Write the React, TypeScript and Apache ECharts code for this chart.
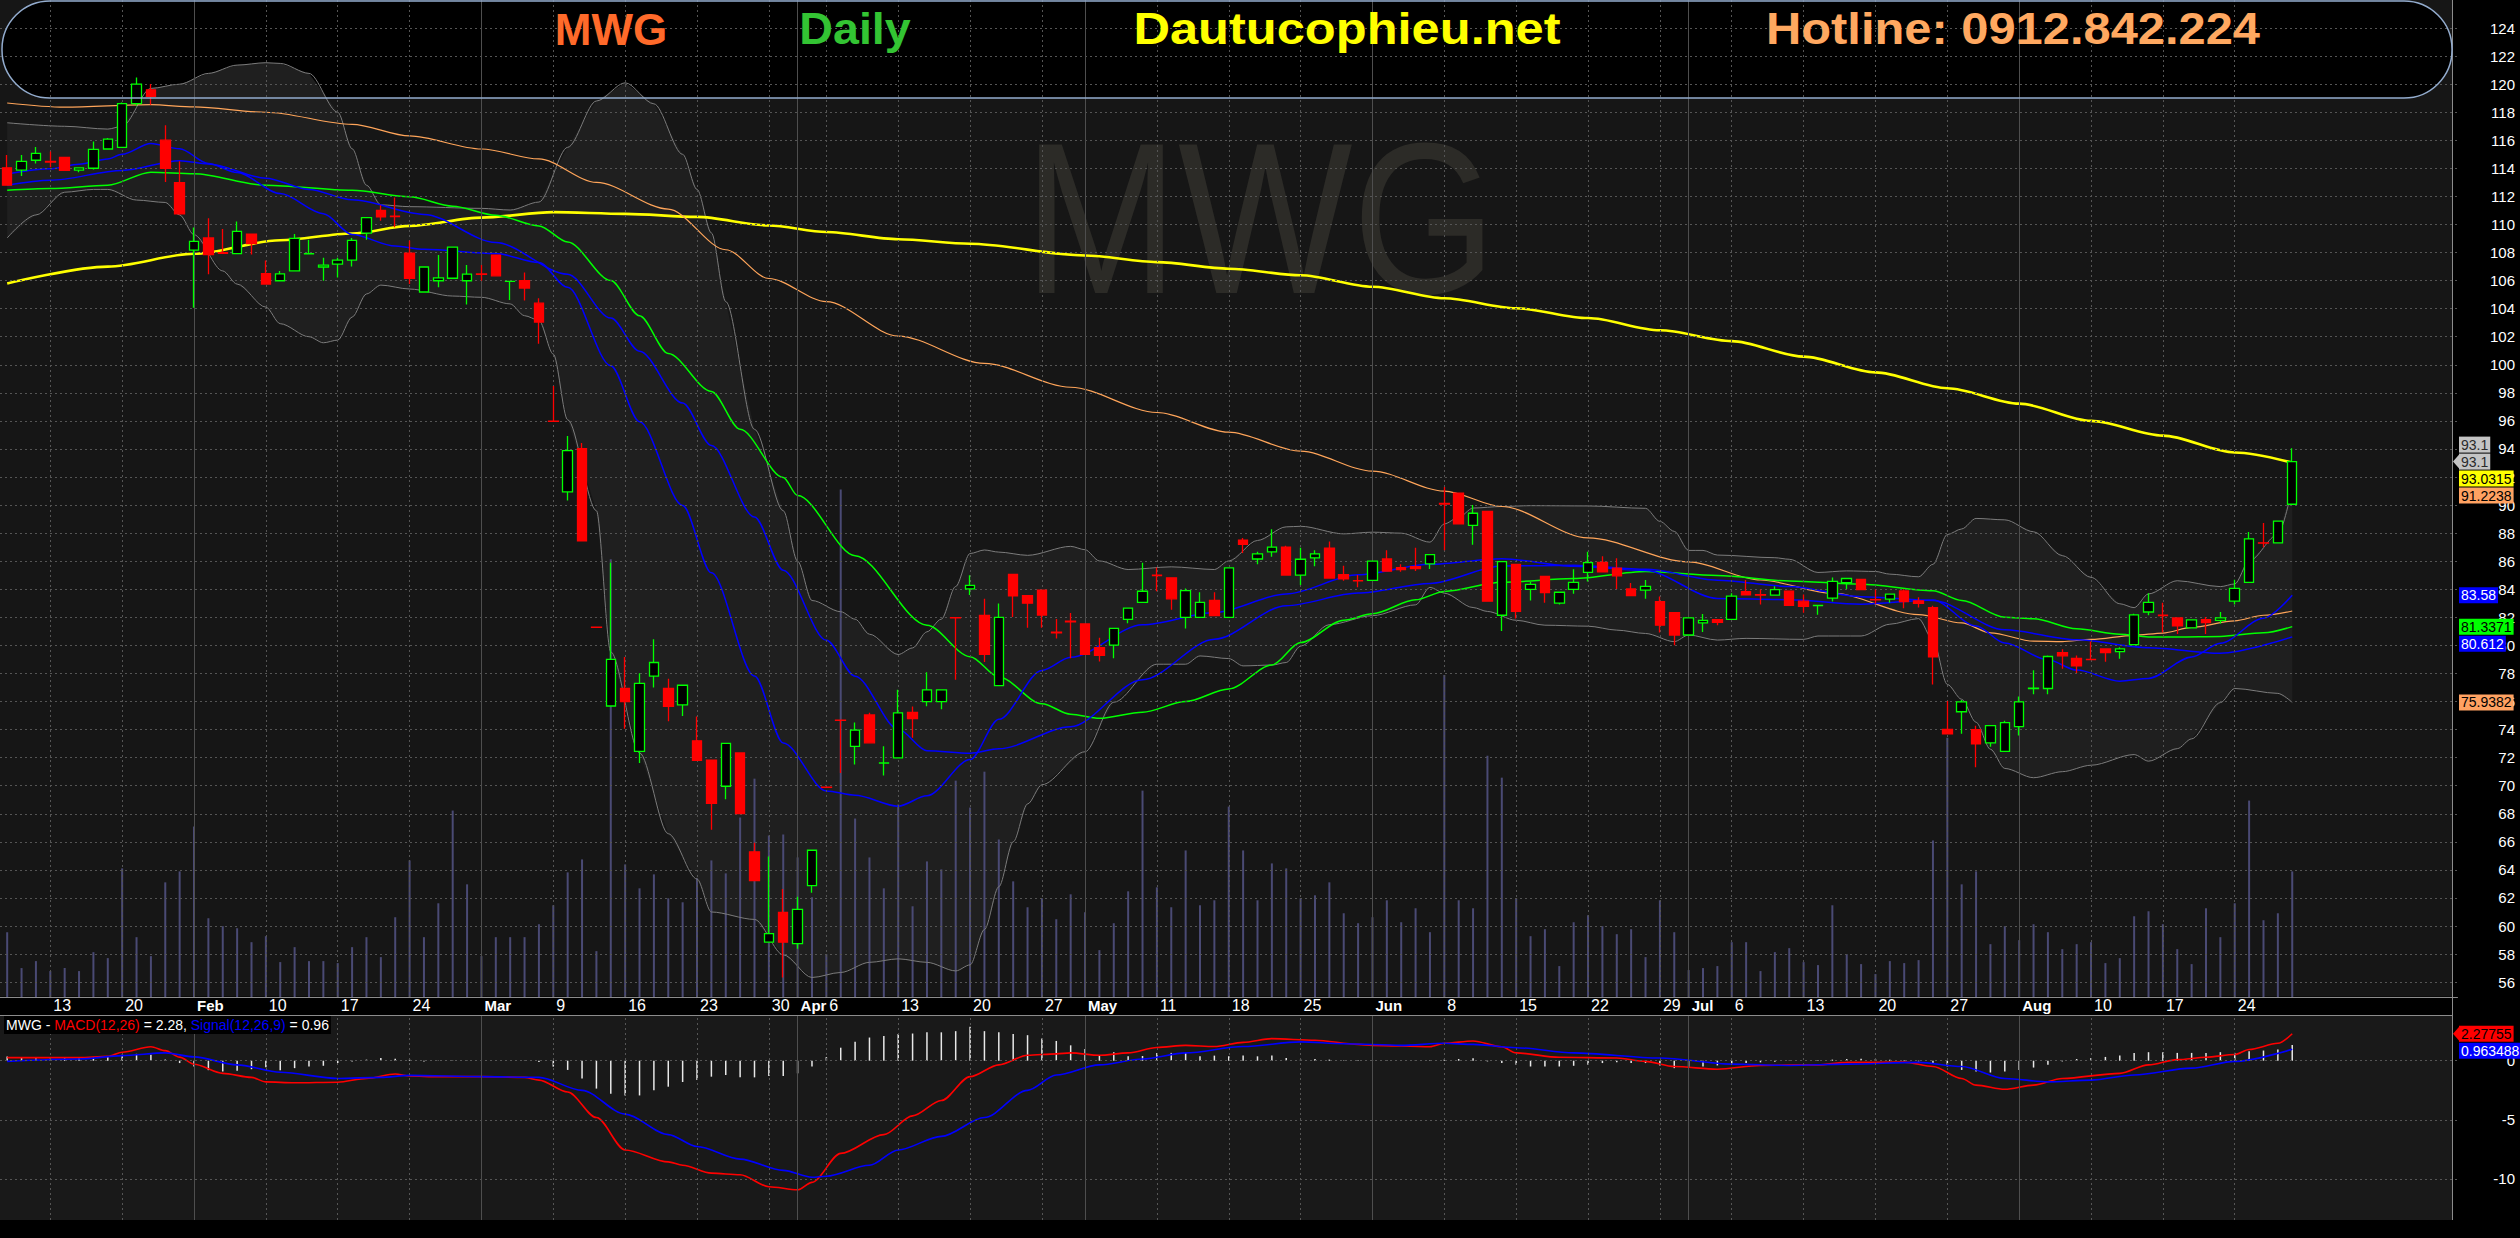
import React, { useEffect, useRef } from "react";
import * as echarts from "echarts";

// ---------- categories ----------
const tradingDays: [string, number[]][] = [
  ["2020-01", [8, 9, 10, 13, 14, 15, 16, 17, 20, 21, 22, 30, 31]],
  ["2020-02", [3, 4, 5, 6, 7, 10, 11, 12, 13, 14, 17, 18, 19, 20, 21, 24, 25, 26, 27, 28]],
  ["2020-03", [2, 3, 4, 5, 6, 9, 10, 11, 12, 13, 16, 17, 18, 19, 20, 23, 24, 25, 26, 27, 30, 31]],
  ["2020-04", [1, 3, 6, 7, 8, 9, 10, 13, 14, 15, 16, 17, 20, 21, 22, 23, 24, 27, 28, 29]],
  ["2020-05", [4, 5, 6, 7, 8, 11, 12, 13, 14, 15, 18, 19, 20, 21, 22, 25, 26, 27, 28, 29]],
  ["2020-06", [1, 2, 3, 4, 5, 8, 9, 10, 11, 12, 15, 16, 17, 18, 19, 22, 23, 24, 25, 26, 29, 30]],
  ["2020-07", [1, 2, 3, 6, 7, 8, 9, 10, 13, 14, 15, 16, 17, 20, 21, 22, 23, 24, 27, 28, 29, 30, 31]],
  ["2020-08", [3, 4, 5, 6, 7, 10, 11, 12, 13, 14, 17, 18, 19, 20, 21, 24, 25, 26, 27, 28]],
];
const dates: string[] = tradingDays.flatMap(([m, ds]) => ds.map((d) => `${m}-${d < 10 ? "0" + d : d}`));
const emptySlots = ["+1", "+2", "+3", "+4", "+5", "+6", "+7", "+8", "+9", "+10", "+11"];
const categories = [...dates, ...emptySlots];

const xTickLabels: [string, string][] = [
  ["2020-01-13", "13"], ["2020-01-20", "20"], ["2020-02-03", "Feb"], ["2020-02-10", "10"], ["2020-02-17", "17"], ["2020-02-24", "24"],
  ["2020-03-02", "Mar"], ["2020-03-09", "9"], ["2020-03-16", "16"], ["2020-03-23", "23"], ["2020-03-30", "30"],
  ["2020-04-01", "Apr"], ["2020-04-06", "6"], ["2020-04-13", "13"], ["2020-04-20", "20"], ["2020-04-27", "27"],
  ["2020-05-04", "May"], ["2020-05-11", "11"], ["2020-05-18", "18"], ["2020-05-25", "25"],
  ["2020-06-01", "Jun"], ["2020-06-08", "8"], ["2020-06-15", "15"], ["2020-06-22", "22"], ["2020-06-29", "29"],
  ["2020-07-01", "Jul"], ["2020-07-06", "6"], ["2020-07-13", "13"], ["2020-07-20", "20"], ["2020-07-27", "27"],
  ["2020-08-03", "Aug"], ["2020-08-10", "10"], ["2020-08-17", "17"], ["2020-08-24", "24"],
];
const priceTicks = [56, 58, 60, 62, 64, 66, 68, 70, 72, 74, 76, 78, 80, 82, 84, 86, 88, 90, 92, 94, 96, 98, 100, 102, 104, 106, 108, 110, 112, 114, 116, 118, 120, 122, 124];
const macdTicks = [0, -5, -10];

// ---------- price: [open, close, low, high] ----------
const ohlc: number[][] = [
  [114.04, 112.8, 112.8, 114.95], [113.87, 114.5, 113.45, 114.95], [114.58, 115.07, 114.34, 115.52], [114.5, 114.45, 114.08, 115.2], [114.79, 113.85, 113.85, 114.8],
  [113.87, 114.04, 113.73, 114.08], [114.01, 115.35, 113.92, 115.92], [115.38, 116.08, 115.38, 116.17], [115.49, 118.62, 115.49, 118.7], [118.62, 120.0, 118.47, 120.47],
  [119.6, 119.13, 118.54, 120.02], [116.01, 114.01, 113.03, 117.07], [112.98, 110.75, 110.7, 114.5], [108.17, 108.8, 104.06, 109.79], [109.04, 107.86, 106.46, 110.45],
  [107.99, 107.95, 107.95, 109.67], [107.93, 109.51, 107.93, 110.21], [109.32, 108.64, 107.86, 109.32], [106.5, 105.75, 105.75, 107.44], [105.99, 106.48, 105.99, 106.69],
  [106.69, 109.01, 106.69, 109.32], [107.9, 107.92, 107.9, 108.92], [106.97, 107.11, 105.99, 107.63], [107.18, 107.46, 106.22, 107.63], [107.46, 108.87, 107.0, 109.04],
  [109.39, 110.49, 108.92, 110.5], [111.01, 110.54, 110.26, 111.38], [110.6, 110.56, 109.81, 111.92], [107.96, 106.17, 105.75, 108.85], [105.19, 106.97, 105.19, 106.97],
  [105.99, 106.2, 105.52, 107.82], [106.17, 108.38, 106.17, 108.38], [105.99, 106.46, 104.29, 107.11], [106.48, 106.44, 105.99, 107.11], [107.82, 106.34, 106.3, 107.82],
  [105.94, 105.95, 104.62, 105.95], [105.99, 105.47, 104.58, 106.57], [104.39, 103.05, 101.5, 104.75], [95.99, 95.97, 95.97, 98.49], [90.94, 93.88, 90.32, 94.93],
  [94.03, 87.45, 87.45, 94.42], [81.3, 81.28, 81.25, 81.32], [75.68, 79.0, 75.68, 85.9], [76.94, 76.0, 74.06, 79.17], [72.45, 77.3, 71.62, 78.02],
  [77.81, 78.78, 77.0, 80.43], [76.94, 75.65, 74.6, 77.63], [75.76, 77.16, 74.96, 77.2], [73.2, 71.8, 71.8, 74.93], [71.83, 68.74, 66.87, 71.83],
  [69.96, 73.02, 69.03, 73.02], [72.34, 68.02, 68.0, 72.34], [65.29, 63.24, 63.24, 65.94], [58.85, 59.46, 58.85, 64.96], [60.97, 58.85, 56.33, 62.63],
  [58.74, 61.19, 58.38, 62.09], [62.88, 65.4, 62.37, 65.4], [69.9, 69.88, 69.88, 69.9], [74.68, 74.66, 70.9, 74.68], [72.81, 73.96, 71.51, 74.5],
  [75.04, 73.06, 73.06, 75.2], [71.62, 71.63, 70.72, 72.81], [71.98, 75.19, 71.98, 76.84], [75.22, 74.78, 73.42, 75.65], [76.0, 76.83, 75.67, 78.09],
  [76.0, 76.83, 75.45, 76.83], [81.98, 81.96, 77.55, 81.98], [84.03, 84.28, 83.6, 85.0], [82.14, 79.36, 78.82, 83.32], [77.13, 82.0, 77.09, 82.99],
  [85.06, 83.53, 82.02, 85.06], [83.55, 83.01, 81.25, 83.55], [83.93, 82.16, 81.25, 83.93], [80.94, 80.9, 80.49, 81.88], [81.72, 81.68, 79.08, 82.31],
  [81.53, 79.36, 79.36, 81.53], [79.84, 79.29, 78.85, 80.54], [80.02, 81.22, 79.08, 81.22], [81.86, 82.66, 81.58, 82.66], [83.06, 83.86, 83.06, 85.9],
  [85.01, 84.98, 83.86, 85.55], [84.82, 83.32, 82.54, 84.82], [82.0, 83.91, 81.2, 84.05], [82.0, 83.06, 82.0, 83.79], [83.2, 82.12, 82.12, 83.79],
  [82.0, 85.53, 82.0, 85.53], [87.51, 87.2, 86.59, 87.65], [86.16, 86.52, 85.79, 86.68], [86.66, 87.01, 86.31, 88.28], [87.01, 85.01, 85.01, 87.1],
  [85.01, 86.14, 84.31, 86.96], [86.24, 86.52, 85.65, 86.78], [86.94, 84.8, 84.8, 87.41], [85.04, 84.75, 84.61, 85.67], [84.62, 84.6, 84.14, 85.01],
  [84.64, 86.01, 84.64, 86.01], [86.16, 85.29, 85.29, 86.78], [85.55, 85.41, 85.25, 85.79], [85.62, 85.48, 85.3, 86.96], [85.81, 86.47, 85.44, 86.47],
  [90.12, 90.08, 86.78, 91.29], [90.85, 88.66, 88.66, 90.85], [88.56, 89.42, 87.18, 90.0], [89.55, 83.15, 83.15, 89.55], [82.15, 85.97, 81.02, 85.97],
  [85.78, 82.43, 81.91, 85.78], [84.0, 84.35, 83.2, 84.52], [84.92, 83.77, 83.04, 84.92], [83.01, 83.79, 82.92, 83.79], [84.0, 84.49, 83.69, 85.43],
  [85.2, 85.9, 84.55, 86.68], [85.92, 85.24, 85.24, 86.35], [85.5, 84.96, 84.02, 86.21], [84.02, 83.55, 83.55, 84.45], [83.94, 84.21, 83.33, 84.66],
  [83.11, 81.44, 80.92, 83.48], [82.33, 80.74, 80.01, 82.33], [80.74, 81.96, 80.74, 81.96], [81.6, 81.79, 80.96, 82.24], [81.84, 81.65, 81.44, 81.84],
  [81.86, 83.51, 81.86, 83.72], [83.84, 83.6, 83.6, 84.66], [83.61, 83.58, 82.92, 83.98], [83.58, 83.98, 83.58, 84.21], [83.86, 82.85, 82.85, 83.86],
  [83.15, 82.78, 82.32, 83.62], [82.83, 82.85, 82.19, 82.86], [83.37, 84.56, 83.13, 84.84], [84.47, 84.77, 84.02, 84.77], [84.7, 83.98, 83.98, 84.7],
  [83.27, 83.25, 82.97, 83.98], [83.3, 83.65, 83.04, 83.65], [83.88, 83.13, 82.65, 84.0], [83.18, 82.99, 82.71, 83.44], [82.69, 79.19, 77.22, 82.83],
  [74.02, 73.69, 73.69, 76.04], [75.27, 75.97, 73.7, 76.11], [74.0, 72.99, 71.32, 74.28], [73.06, 74.28, 72.77, 74.28], [72.45, 74.49, 72.45, 74.63],
  [74.21, 75.97, 73.58, 76.35], [76.93, 76.95, 76.51, 78.23], [76.93, 79.21, 76.51, 79.28], [79.49, 79.26, 78.34, 79.72], [79.07, 78.55, 78.04, 79.28],
  [79.0, 78.98, 78.98, 80.27], [79.75, 79.49, 78.84, 79.75], [79.56, 79.75, 79.05, 79.87], [80.06, 82.17, 80.06, 82.26], [82.38, 83.06, 82.15, 83.72],
  [82.15, 82.13, 80.92, 83.04], [81.96, 81.39, 80.81, 81.96], [81.25, 81.82, 81.25, 81.86], [81.84, 81.63, 80.81, 82.03], [81.79, 81.96, 81.56, 82.38],
  [83.15, 84.07, 82.92, 84.68], [84.49, 87.59, 84.49, 88.08], [87.31, 87.29, 87.0, 88.72], [87.31, 88.86, 87.31, 88.86], [90.06, 93.1, 90.06, 94.05],
];

// volume (millions of shares)
const volume = [
  0.65, 0.29, 0.36, 0.26, 0.29, 0.26, 0.45, 0.39, 1.29, 0.6,
  0.41, 1.15, 1.26, 1.71, 0.79, 0.71, 0.69, 0.55, 0.61, 0.35,
  0.5, 0.36, 0.36, 0.34, 0.5, 0.6, 0.4, 0.8, 1.37, 0.6,
  0.94, 1.87, 1.13, 0.41, 0.6, 0.6, 0.6, 0.73, 0.92, 1.25,
  1.38, 0.46, 4.39, 1.33, 1.09, 1.23, 0.99, 0.95, 1.19, 1.37,
  1.24, 1.8, 2.19, 1.62, 1.63, 1.4, 1.0, 0.43, 5.09, 1.79,
  1.4, 1.09, 1.93, 0.91, 1.36, 1.28, 2.17, 1.9, 2.26, 1.58,
  1.16, 0.9, 0.99, 0.78, 1.03, 0.85, 0.47, 0.74, 1.06, 2.07,
  1.1, 0.9, 1.47, 0.92, 0.97, 1.91, 1.47, 0.97, 1.34, 1.29,
  0.99, 1.02, 1.15, 0.84, 0.74, 0.8, 0.97, 0.75, 0.89, 0.65,
  3.23, 0.97, 0.89, 2.42, 2.2, 0.99, 0.61, 0.68, 0.31, 0.75,
  0.82, 0.71, 0.63, 0.68, 0.4, 0.97, 0.65, 0.27, 0.29, 0.31,
  0.55, 0.55, 0.26, 0.45, 0.49, 0.35, 0.32, 0.92, 0.43, 0.33,
  0.23, 0.36, 0.34, 0.37, 1.57, 2.6, 1.13, 1.26, 0.53, 0.71,
  0.57, 0.73, 0.65, 0.48, 0.53, 0.55, 0.34, 0.39, 0.81, 0.86,
  0.73, 0.48, 0.33, 0.89, 0.6, 0.94, 1.97, 0.77, 0.84, 1.26,
];

// moving averages / bands: [barIndex, value]
const ma200Line = [[0, 105.8], [7, 107.0], [13, 107.91], [19, 108.88], [24, 109.36], [28, 109.9], [33, 110.49], [38, 110.88], [43, 110.76], [48, 110.54], [53, 109.93], [57, 109.46], [62, 108.95], [67, 108.63], [75, 107.79], [80, 107.32], [85, 106.85], [90, 106.38], [95, 105.56], [100, 104.74], [105, 104.03], [110, 103.33], [115, 102.46], [120, 101.69], [125, 100.58], [130, 99.46], [135, 98.33], [140, 97.23], [145, 96.0], [150, 94.95], [155, 93.75], [159, 93.03]];
const ma100Line = [[0, 118.66], [4, 118.36], [10, 118.54], [13, 118.38], [18, 118.0], [24, 117.14], [28, 116.31], [33, 115.38], [37, 114.67], [41, 113.0], [46, 111.1], [50, 108.2], [53, 106.15], [57, 104.5], [62, 102.05], [68, 100.1], [74, 98.4], [80, 96.6], [85, 95.2], [90, 93.84], [95, 92.42], [100, 91.0], [104, 89.9], [110, 87.66], [117, 85.95], [122, 84.66], [127, 83.72], [133, 82.2], [136, 81.6], [138, 80.9], [141, 80.3], [143, 80.27], [145, 80.43], [148, 80.72], [150, 80.88], [152, 81.28], [155, 81.75], [157, 82.15], [159, 82.45]];
const ma35Line = [[0, 112.44], [3, 112.56], [7, 112.8], [10, 113.73], [13, 113.62], [18, 112.8], [24, 112.44], [28, 111.97], [31, 111.3], [34, 110.66], [37, 109.9], [39, 108.75], [42, 106.0], [44, 103.5], [46, 100.8], [49, 98.1], [51, 95.4], [54, 91.97], [55, 90.68], [59, 86.39], [64, 81.44], [67, 79.2], [69, 77.75], [72, 75.84], [74, 75.09], [76, 74.8], [79, 75.24], [82, 76.0], [85, 76.9], [88, 78.6], [90, 80.2], [93, 81.8], [95, 82.26], [98, 83.25], [100, 83.85], [104, 84.5], [109, 84.76], [114, 85.26], [119, 84.98], [124, 84.59], [129, 84.36], [134, 83.89], [136, 83.2], [139, 82.01], [141, 81.9], [144, 81.18], [147, 80.8], [149, 80.6], [151, 80.6], [154, 80.64], [157, 80.9], [159, 81.34]];
const ma25Line = [[0, 112.8], [3, 113.15], [8, 113.85], [12, 114.55], [14, 114.32], [18, 113.3], [21, 112.5], [24, 111.76], [29, 110.72], [34, 108.71], [39, 106.46], [42, 103.33], [44, 100.97], [47, 97.27], [49, 94.24], [52, 89.15], [54, 85.36], [57, 80.37], [59, 77.81], [62, 74.02], [64, 72.49], [67, 72.31], [69, 72.63], [74, 74.2], [79, 77.55], [84, 80.44], [89, 82.83], [94, 83.73], [99, 84.42], [104, 85.66], [109, 85.71], [114, 85.42], [119, 84.65], [124, 84.2], [129, 83.47], [134, 83.2], [139, 81.11], [144, 80.4], [149, 79.84], [154, 79.44], [159, 80.61]];
const ma15Line = [[0, 113.6], [3, 113.97], [5, 114.3], [7, 114.67], [8, 115.0], [10, 115.77], [12, 115.4], [14, 114.35], [16, 113.7], [19, 112.2], [22, 110.77], [24, 109.28], [27, 108.46], [29, 108.23], [34, 107.93], [37, 107.29], [39, 105.52], [42, 99.93], [44, 95.94], [47, 89.98], [49, 85.17], [52, 77.82], [54, 73.05], [57, 69.63], [59, 69.32], [62, 68.54], [64, 69.28], [67, 71.86], [69, 74.73], [72, 78.22], [74, 79.15], [79, 81.47], [84, 82.34], [89, 83.67], [94, 85.03], [99, 85.78], [104, 86.18], [109, 85.65], [114, 85.33], [119, 83.35], [124, 83.26], [129, 82.94], [134, 83.24], [137, 81.38], [139, 80.17], [142, 78.97], [144, 78.24], [147, 77.45], [149, 77.65], [152, 79.17], [154, 80.15], [157, 81.94], [159, 83.58]];
const bbUpperLine = [[0, 117.25], [4, 117.0], [7, 116.8], [8, 117.0], [10, 119.7], [12, 120.0], [14, 120.77], [16, 121.36], [18, 121.53], [19, 121.48], [21, 120.77], [23, 118.0], [24, 115.4], [25, 112.8], [26, 111.4], [28, 111.27], [33, 111.15], [35, 111.03], [37, 111.6], [39, 115.5], [41, 118.8], [43, 120.1], [45, 118.6], [47, 115.0], [48, 112.5], [49, 109.4], [50, 104.5], [52, 95.4], [54, 89.6], [55, 86.0], [56, 83.2], [58, 82.4], [59, 81.87], [60, 80.8], [62, 79.35], [63, 79.82], [64, 80.97], [65, 81.87], [66, 84.2], [67, 86.55], [68, 86.8], [69, 86.65], [71, 86.42], [74, 87.06], [75, 86.82], [76, 86.02], [78, 85.41], [81, 85.6], [84, 85.41], [85, 86.02], [87, 87.48], [89, 88.45], [90, 88.49], [93, 87.95], [95, 88.07], [97, 88.0], [99, 87.36], [100, 88.66], [101, 89.13], [102, 89.79], [104, 89.9], [106, 89.96], [110, 89.94], [114, 89.77], [115, 88.84], [116, 88.13], [117, 86.77], [118, 86.77], [119, 86.44], [123, 86.25], [124, 86.14], [126, 85.2], [128, 85.31], [130, 85.27], [131, 85.08], [133, 84.89], [134, 85.78], [135, 87.9], [136, 88.3], [137, 89.05], [139, 88.95], [141, 88.1], [143, 86.4], [145, 84.85], [147, 82.97], [148, 82.69], [149, 83.67], [151, 84.61], [154, 84.19], [155, 84.38], [156, 86.02], [158, 87.9], [159, 91.22]];
const bbLowerLine = [[0, 109.04], [2, 110.68], [4, 112.3], [6, 112.5], [7, 112.5], [9, 111.74], [11, 111.57], [12, 110.68], [13, 109.27], [15, 106.69], [16, 105.75], [18, 104.11], [19, 102.93], [21, 102.0], [22, 101.57], [23, 101.76], [24, 103.4], [25, 105.05], [26, 105.68], [28, 105.4], [31, 104.9], [33, 104.81], [35, 104.34], [36, 103.5], [37, 103.17], [38, 100.76], [39, 96.08], [41, 89.6], [42, 79.53], [44, 72.34], [46, 66.58], [48, 63.35], [49, 61.0], [52, 60.47], [54, 57.95], [56, 56.33], [58, 56.69], [60, 57.41], [62, 57.66], [64, 57.41], [66, 56.8], [67, 57.23], [68, 59.75], [69, 62.8], [70, 66.0], [71, 68.7], [72, 70.07], [75, 72.42], [77, 75.95], [80, 78.66], [82, 78.66], [83, 79.25], [85, 79.06], [86, 78.54], [88, 78.6], [89, 78.78], [90, 79.95], [92, 81.48], [95, 82.12], [98, 82.89], [99, 84.14], [100, 83.72], [102, 82.7], [103, 82.42], [105, 81.79], [107, 81.44], [110, 81.37], [112, 81.09], [114, 80.85], [116, 80.27], [117, 80.74], [119, 80.38], [121, 80.5], [125, 80.43], [126, 80.67], [129, 80.67], [131, 81.51], [133, 81.91], [134, 80.38], [135, 77.22], [136, 76.16], [137, 74.52], [138, 72.6], [139, 71.23], [141, 70.57], [143, 71.0], [145, 71.46], [148, 72.22], [149, 71.75], [151, 72.64], [152, 73.34], [154, 75.92], [155, 76.93], [158, 76.58], [159, 75.94]];

// MACD panel
const macdLine = [[0, 0.26], [5, 0.26], [7, 0.37], [8, 0.72], [10, 1.18], [11, 0.85], [12, 0.3], [13, -0.3], [15, -1.07], [17, -1.41], [18, -1.79], [20, -1.87], [23, -1.82], [25, -1.5], [27, -1.12], [28, -1.3], [30, -1.35], [33, -1.35], [36, -1.41], [37, -1.64], [39, -2.65], [41, -4.81], [43, -7.55], [46, -8.56], [47, -8.85], [49, -9.51], [51, -9.65], [53, -10.66], [55, -10.92], [56, -10.29], [58, -7.84], [61, -6.25], [63, -4.67], [65, -3.37], [67, -1.35], [69, -0.35], [71, 0.46], [73, 0.58], [74, 0.66], [76, 0.46], [78, 0.66], [80, 1.12], [82, 1.3], [84, 1.2], [86, 1.55], [88, 1.87], [91, 1.73], [94, 1.38], [95, 1.3], [99, 1.18], [100, 1.47], [102, 1.67], [104, 1.18], [105, 0.66], [108, 0.29], [112, 0.23], [114, -0.06], [116, -0.49], [119, -0.72], [122, -0.4], [126, -0.35], [128, -0.14], [132, -0.12], [134, -0.49], [136, -1.5], [137, -2.07], [139, -2.42], [141, -2.07], [143, -1.5], [147, -1.07], [149, -0.35], [151, 0.09], [153, 0.29], [155, 0.52], [156, 0.95], [158, 1.47], [159, 2.28]];
const signalLine = [[0, -0.06], [5, 0.14], [8, 0.43], [11, 0.66], [13, 0.32], [16, -0.35], [19, -0.98], [23, -1.5], [26, -1.41], [28, -1.24], [33, -1.35], [37, -1.41], [40, -2.51], [43, -4.52], [46, -6.25], [48, -7.26], [51, -8.33], [54, -9.28], [56, -9.86], [57, -9.77], [60, -8.85], [62, -7.55], [65, -6.4], [68, -4.81], [71, -2.51], [73, -1.21], [76, -0.35], [79, 0.14], [82, 0.66], [86, 1.2], [90, 1.59], [93, 1.44], [97, 1.3], [100, 1.47], [102, 1.38], [105, 1.1], [109, 0.66], [115, 0.23], [120, -0.29], [124, -0.4], [128, -0.29], [133, -0.14], [136, -0.49], [139, -1.5], [142, -1.79], [145, -1.64], [148, -1.21], [152, -0.63], [155, -0.06], [159, 0.96]];
const macdHist = [
  0.35, 0.25, 0.2, 0.2, 0.2, 0.25, 0.3, 0.35, 0.5, 0.58,
  0.5, 0.1, -0.2, -0.5, -0.8, -0.92, -0.85, -0.72, -0.55, -0.8,
  -0.63, -0.5, -0.43, -0.2, -0.06, 0.09, 0.23, 0.17, 0.09, -0.06,
  -0.02, 0.02, 0.02, 0.01, 0.0, -0.01, -0.02, -0.1, -0.5, -0.78,
  -1.5, -2.36, -2.8, -2.94, -2.94, -2.5, -2.2, -1.8, -1.64, -1.35,
  -1.2, -1.41, -1.41, -1.3, -1.3, -1.07, -0.5, 0.3, 1.1, 1.6,
  1.96, 2.1, 2.25, 2.3, 2.4, 2.4, 2.5, 2.88, 2.5, 2.4,
  2.25, 2.16, 1.87, 1.67, 1.3, 1.0, 0.43, 0.72, 0.37, 0.4,
  0.66, 0.66, 0.66, 0.37, 0.43, 0.37, 0.43, 0.37, 0.43, 0.23,
  0.09, 0.14, 0.09, 0.03, 0.03, 0.03, 0.03, 0.03, 0.06, 0.03,
  0.09, 0.14, 0.2, -0.06, -0.2, -0.35, -0.49, -0.49, -0.49, -0.43,
  -0.35, -0.2, -0.14, -0.2, -0.2, -0.4, -0.63, -0.58, -0.49, -0.4,
  -0.35, -0.2, -0.14, -0.09, -0.03, 0.0, 0.03, 0.09, 0.14, 0.17,
  0.14, 0.09, 0.03, -0.06, -0.2, -0.49, -0.78, -0.92, -1.0, -0.92,
  -0.78, -0.58, -0.35, -0.06, 0.14, 0.23, 0.32, 0.43, 0.66, 0.72,
  0.72, 0.66, 0.66, 0.66, 0.72, 0.66, 0.8, 0.86, 0.95, 1.32,
];

// last-value labels on the right scale
const lastValueLabels = [
  { key: "closeTop", axis: 0, value: 93.1, text: "93.1" },
  { key: "close", axis: 0, value: 93.1, text: "93.1" },
  { key: "ma200", axis: 0, value: 93.0315, text: "93.0315" },
  { key: "bbUp", axis: 0, value: 91.2238, text: "91.2238" },
  { key: "ma15", axis: 0, value: 83.58, text: "83.58" },
  { key: "ma35", axis: 0, value: 81.3371, text: "81.3371" },
  { key: "ma25", axis: 0, value: 80.612, text: "80.612" },
  { key: "bbLow", axis: 0, value: 75.9382, text: "75.9382" },
  { key: "macd", axis: 2, value: 2.27755, text: "2.27755" },
  { key: "signal", axis: 2, value: 0.963488, text: "0.963488" },
];
const macdTitleValues = { macd: "2.28", signal: "0.96" };

// ---------- styles ----------
const FONT = '"Liberation Sans", Arial, sans-serif';
const LABEL_STYLE: Record<string, { bg: string; fg: string; arrow?: boolean; above?: boolean }> = {
  closeTop: { bg: "#c4c4c4", fg: "#2a2a2a", above: true },
  close: { bg: "#c4c4c4", fg: "#2a2a2a", arrow: true },
  ma200: { bg: "#ffff00", fg: "#000" },
  bbUp: { bg: "#ffa262", fg: "#000" },
  ma15: { bg: "#0000ff", fg: "#fff" },
  ma35: { bg: "#00ff00", fg: "#000" },
  ma25: { bg: "#0000ff", fg: "#fff" },
  bbLow: { bg: "#ffa262", fg: "#000" },
  macd: { bg: "#ff0000", fg: "#000", arrow: true },
  signal: { bg: "#0000ff", fg: "#fff" },
};

export default function App() {
  const ref = useRef<HTMLDivElement>(null);

  useEffect(() => {
    document.body.style.margin = "0";
    document.body.style.background = "#000";
    const el = ref.current;
    if (!el) return;
    const chart = echarts.init(el, undefined, { renderer: "svg" });

    const tickMap = new Map<string, string>(xTickLabels);
    const isMonth = (t: string) => /^[A-Z]/.test(t);
    const weekDates = xTickLabels.filter(([, t]) => !isMonth(t)).map(([d]) => d);
    const monthDates = xTickLabels.filter(([, t]) => isMonth(t)).map(([d]) => d);

    const vLines = [
      ...weekDates.map((d) => ({ xAxis: d, lineStyle: { color: "#555555", type: [2, 3], width: 1 } })),
      ...monthDates.map((d) => ({ xAxis: d, lineStyle: { color: "#4e4e4e", type: "solid", width: 1 } })),
    ];
    const markBase = { silent: true, symbol: ["none", "none"], label: { show: false }, animation: false };

    const GRID_W = 2459.5;
    const grids = [
      { left: -2, top: -10.76, width: GRID_W, height: 1020.96 },
      { left: -2, top: 0, width: GRID_W, height: 997 },
      { left: -2, top: 1001.6, width: GRID_W, height: 263.6 },
      { left: -2, top: 1016, width: GRID_W, height: 204 },
    ];

    const xAxes = [0, 1, 2, 3].map((gi) => ({
      type: "category",
      gridIndex: gi,
      data: categories,
      boundaryGap: true,
      axisLine: { show: gi === 1, lineStyle: { color: "#8c8c8c", width: 1 } },
      axisTick: { show: false },
      splitLine: { show: false },
      axisLabel:
        gi === 1
          ? {
              show: true,
              interval: (_i: number, v: string) => tickMap.has(v),
              hideOverlap: false,
              align: "left",
              margin: 0,
              padding: [0, 0, 0, 3],
              lineHeight: 17,
              formatter: (v: string) => {
                const t = tickMap.get(v);
                if (!t) return "";
                return isMonth(t) ? `{m|${t}}` : `{d|${t}}`;
              },
              rich: {
                m: { color: "#ffffff", fontFamily: FONT, fontSize: 15, fontWeight: "bold", lineHeight: 17 },
                d: { color: "#ffffff", fontFamily: FONT, fontSize: 16, lineHeight: 17 },
              },
            }
          : { show: false },
    }));

    const rightAxisLabel = (hide: (v: number) => boolean) => ({
      show: true,
      color: "#ffffff",
      fontFamily: FONT,
      fontSize: 15,
      align: "right",
      margin: 57.5,
      formatter: (v: number) => (hide(v) ? "" : String(v)),
    });

    const yAxes = [
      {
        type: "value", gridIndex: 0, min: 54, max: 126, interval: 2, position: "right",
        axisLine: { show: false }, axisTick: { show: false }, splitLine: { show: false },
        axisLabel: rightAxisLabel((v) => v <= 54 || v >= 126),
      },
      { type: "value", gridIndex: 1, min: 0, max: 10, show: false, splitLine: { show: false } },
      {
        type: "value", gridIndex: 2, min: -15, max: 5, interval: 5, position: "right",
        axisLine: { show: false }, axisTick: { show: false }, splitLine: { show: false },
        axisLabel: rightAxisLabel((v) => v <= -15 || v >= 5),
      },
      { type: "value", gridIndex: 3, min: 0, max: 1, show: false, splitLine: { show: false } },
    ];

    const lineSeries = (data: number[][], color: string, width: number, z: number, xi = 0, yi = 0, extra: any = {}) => ({
      type: "line",
      xAxisIndex: xi,
      yAxisIndex: yi,
      data,
      symbol: "none",
      showSymbol: false,
      smooth: 0.3,
      smoothMonotone: "x",
      silent: true,
      lineStyle: { color, width },
      z,
      ...extra,
    });

    const series: any[] = [
      {
        type: "custom",
        xAxisIndex: 0,
        yAxisIndex: 0,
        z: 1,
        silent: true,
        data: [[0, 100]],
        renderItem: (params: any, api: any) => {
          if (params.dataIndex !== 0) return null;
          const pts: number[][] = [];
          for (const [i, v] of bbUpperLine) pts.push(api.coord([i, v]));
          for (let k = bbLowerLine.length - 1; k >= 0; k--) pts.push(api.coord([bbLowerLine[k][0], bbLowerLine[k][1]]));
          return { type: "polygon", shape: { points: pts }, style: { fill: "#1f1f1f" } };
        },
      },
      lineSeries(bbUpperLine, "#7c7c7c", 1, 2, 0, 0, {
        markLine: { ...markBase, lineStyle: { color: "#555555", type: [2, 3], width: 1 }, data: priceTicks.map((v) => ({ yAxis: v })) },
      }),
      lineSeries(bbLowerLine, "#7c7c7c", 1, 2),
      {
        type: "bar",
        xAxisIndex: 1,
        yAxisIndex: 1,
        data: volume,
        barWidth: 2,
        silent: true,
        itemStyle: { color: "#4a4a74" },
        z: 1.8,
        markLine: { ...markBase, data: vLines },
      },
      lineSeries(ma200Line, "#ffff00", 2.6, 3),
      lineSeries(ma100Line, "#ffa55a", 1.2, 3),
      lineSeries(ma35Line, "#00ff00", 1.5, 3),
      lineSeries(ma25Line, "#0000ff", 1.5, 3),
      lineSeries(ma15Line, "#0000ff", 1.5, 3),
      {
        type: "candlestick",
        xAxisIndex: 0,
        yAxisIndex: 0,
        data: ohlc,
        barWidth: 10,
        silent: true,
        z: 5,
        itemStyle: {
          color: "#000000",
          color0: "#ff0000",
          borderColor: "#00ff00",
          borderColor0: "#ff0000",
          borderWidth: 1.3,
        },
      },
      {
        type: "bar",
        xAxisIndex: 2,
        yAxisIndex: 2,
        data: macdHist,
        barWidth: 1.5,
        silent: true,
        itemStyle: { color: "#e8e8e8" },
        z: 2,
        markLine: { ...markBase, lineStyle: { color: "#555555", type: [2, 3], width: 1 }, data: macdTicks.map((v) => ({ yAxis: v })) },
      },
      lineSeries(macdLine, "#ff0000", 1.6, 3, 2, 2),
      lineSeries(signalLine, "#0000ff", 1.6, 3, 2, 2),
      {
        type: "line",
        xAxisIndex: 3,
        yAxisIndex: 3,
        data: [[0, 5]],
        symbol: "none",
        silent: true,
        lineStyle: { opacity: 0 },
        z: 1.5,
        markLine: { ...markBase, data: vLines },
      },
    ];

    const titleText = (id: string, text: string, cx: number, color: string, sx: number) => ({
      type: "text",
      id,
      x: cx,
      y: 29,
      scaleX: sx,
      z: 21,
      silent: true,
      style: {
        text,
        fill: color,
        font: `bold 44px ${FONT}`,
        align: "center",
        textAlign: "center",
        verticalAlign: "middle",
        textVerticalAlign: "middle",
      },
    });

    const baseGraphic: any[] = [
      { type: "rect", id: "bgPrice", z: 0, silent: true, shape: { x: 0, y: 0, width: 2452, height: 996.5 }, style: { fill: "#161616" } },
      { type: "rect", id: "bgMacd", z: 0, silent: true, shape: { x: 0, y: 1016, width: 2452, height: 204 }, style: { fill: "#191919" } },
      { type: "rect", id: "titleFill", z: 0, silent: true, shape: { x: 2, y: 1, width: 2450, height: 97, r: 48 }, style: { fill: "#000000" } },
      {
        type: "text", id: "watermark", z: 0, silent: true, x: 1024, y: 218, scaleX: 0.86,
        style: { text: "MWG", fill: "#2c2b27", font: `215px ${FONT}`, align: "left", textAlign: "left", verticalAlign: "middle", textVerticalAlign: "middle" },
      },
      { type: "line", id: "axisV", z: 10, silent: true, shape: { x1: 2452.5, y1: 0, x2: 2452.5, y2: 1220 }, style: { stroke: "#8c8c8c", lineWidth: 1 } },
      { type: "line", id: "macdTop", z: 10, silent: true, shape: { x1: 0, y1: 1015.5, x2: 2452, y2: 1015.5 }, style: { stroke: "#8c8c8c", lineWidth: 1 } },
      { type: "rect", id: "titleBorder", z: 20, silent: true, shape: { x: 2, y: 1, width: 2450, height: 97, r: 48 }, style: { fill: "rgba(0,0,0,0)", stroke: "#93acce", lineWidth: 1.5 } },
      titleText("tMWG", "MWG", 611, "#ff6a2a", 1.0),
      titleText("tDaily", "Daily", 855, "#33c433", 1.06),
      titleText("tSite", "Dautucophieu.net", 1347, "#ffff00", 1.15),
      titleText("tHot", "Hotline: 0912.842.224", 2013, "#ffa860", 1.11),
      {
        type: "text", id: "macdTitle", z: 21, silent: true, x: 4, y: 1025,
        style: {
          text: `{w|MWG - }{r|MACD(12,26)}{w| = ${macdTitleValues.macd}, }{b|Signal(12,26,9)}{w| = ${macdTitleValues.signal}}`,
          font: `14px ${FONT}`,
          backgroundColor: "#000000",
          padding: [2, 2, 2, 2],
          verticalAlign: "middle",
          textVerticalAlign: "middle",
          rich: {
            w: { fill: "#ffffff", color: "#ffffff", font: `14px ${FONT}` },
            r: { fill: "#ff0000", color: "#ff0000", font: `14px ${FONT}` },
            b: { fill: "#0000ff", color: "#0000ff", font: `14px ${FONT}` },
          },
        },
      },
    ];

    chart.setOption({
      backgroundColor: "#000000",
      animation: false,
      grid: grids,
      xAxis: xAxes,
      yAxis: yAxes,
      series,
      graphic: baseGraphic,
    });

    // value labels positioned through the axis scales, stacked to avoid overlap
    const labelGraphic: any[] = [];
    const prevY: Record<number, number> = {};
    const closeY = chart.convertToPixel({ yAxisIndex: 0 }, 93.1) as number;
    lastValueLabels.forEach((lab) => {
      const st = LABEL_STYLE[lab.key];
      let y = chart.convertToPixel({ yAxisIndex: lab.axis }, lab.value) as number;
      if (st.above) y = closeY - 17;
      if (prevY[lab.axis] !== undefined && y < prevY[lab.axis] + 17) y = prevY[lab.axis] + 17;
      prevY[lab.axis] = y;
      labelGraphic.push({
        type: "text",
        id: "lbl_" + lab.key,
        z: 30,
        silent: true,
        x: 2459,
        y,
        style: {
          text: lab.text,
          fill: st.fg,
          font: `14px ${FONT}`,
          backgroundColor: st.bg,
          padding: [1, 2, 1, 2],
          align: "left",
          textAlign: "left",
          verticalAlign: "middle",
          textVerticalAlign: "middle",
        },
      });
      if (st.arrow) {
        labelGraphic.push({
          type: "polygon",
          id: "arr_" + lab.key,
          z: 30,
          silent: true,
          shape: { points: [[2453, y], [2460, y - 8], [2460, y + 8]] },
          style: { fill: st.bg },
        });
      }
    });
    chart.setOption({ graphic: [...baseGraphic, ...labelGraphic] });

    return () => {
      chart.dispose();
    };
  }, []);

  return <div ref={ref} style={{ width: 2520, height: 1238 }} />;
}
